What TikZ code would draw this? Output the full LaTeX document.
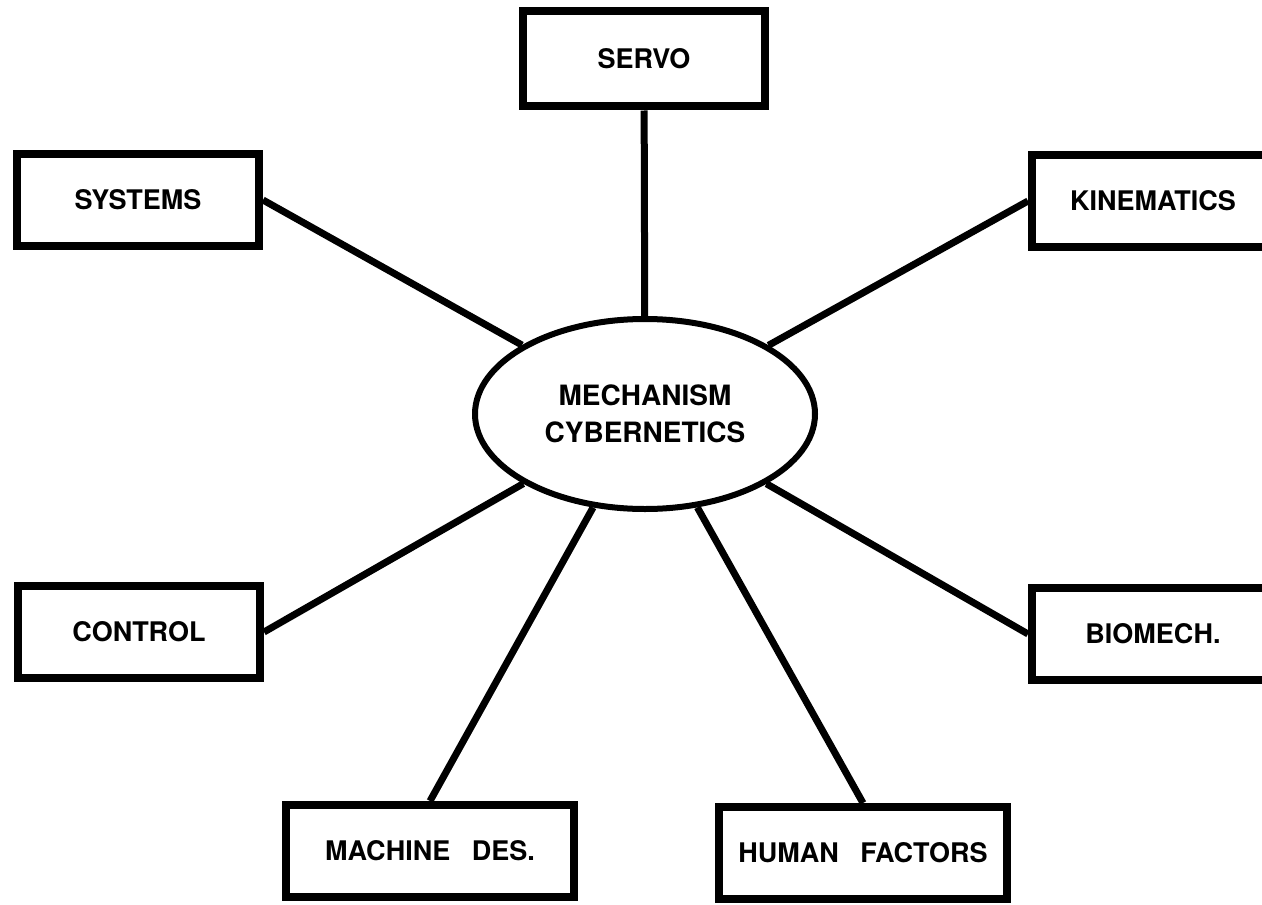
\documentclass[tikz,border=0pt]{standalone}
\usepackage{fontspec}
\setmainfont{TeX Gyre Heros}
\usetikzlibrary{shapes.geometric}

\tikzset{
  caja/.style = {draw, line width=4pt, minimum width=121pt, minimum height=46pt,
                 inner sep=0pt, font=\fontsize{13.5}{16}\selectfont\bfseries},
  cajaancha/.style = {caja, minimum width=144pt},
  nucleo/.style = {draw, ellipse, line width=3pt, minimum width=170pt,
                   minimum height=95pt, inner sep=0pt, align=center,
                   font=\fontsize{14}{18.5}\selectfont\bfseries},
  rama/.style = {line width=3.5pt}
}

\begin{document}
\begin{tikzpicture}[x=0.5pt, y=-0.5pt]
\useasboundingbox (0,0) rectangle (1262,904);
\clip (0,0) rectangle (1262,904);

%% el centro
\node[nucleo] (mc) at (645,414) {MECHANISM\\CYBERNETICS};

%% las cajas
\node[caja, minimum height=47.5pt] (servo) at (644,59) {SERVO};
\node[caja] (systems) at (138,200) {SYSTEMS};
\node[caja] (kinem) at (1153,201) {KINEMATICS};
\node[caja] (control) at (139,632) {CONTROL};
\node[caja] (biomech) at (1153,634) {BIOMECH.};
\node[cajaancha] (machdes) at (430,851) {MACHINE\hspace{0.8em}DES.};
\node[cajaancha] (human) at (863,853) {HUMAN\hspace{0.8em}FACTORS};

%% ramas
\draw[rama] (servo) -- (mc);
\draw[rama] (systems.east) -- (mc);
\draw[rama] (kinem.west) -- (mc);
\draw[rama] (control.east) -- (mc);
\draw[rama] (biomech.west) -- (mc);
\draw[rama] (machdes.north) -- (mc);
\draw[rama] (human.north) -- (mc);
\end{tikzpicture}
\end{document}
